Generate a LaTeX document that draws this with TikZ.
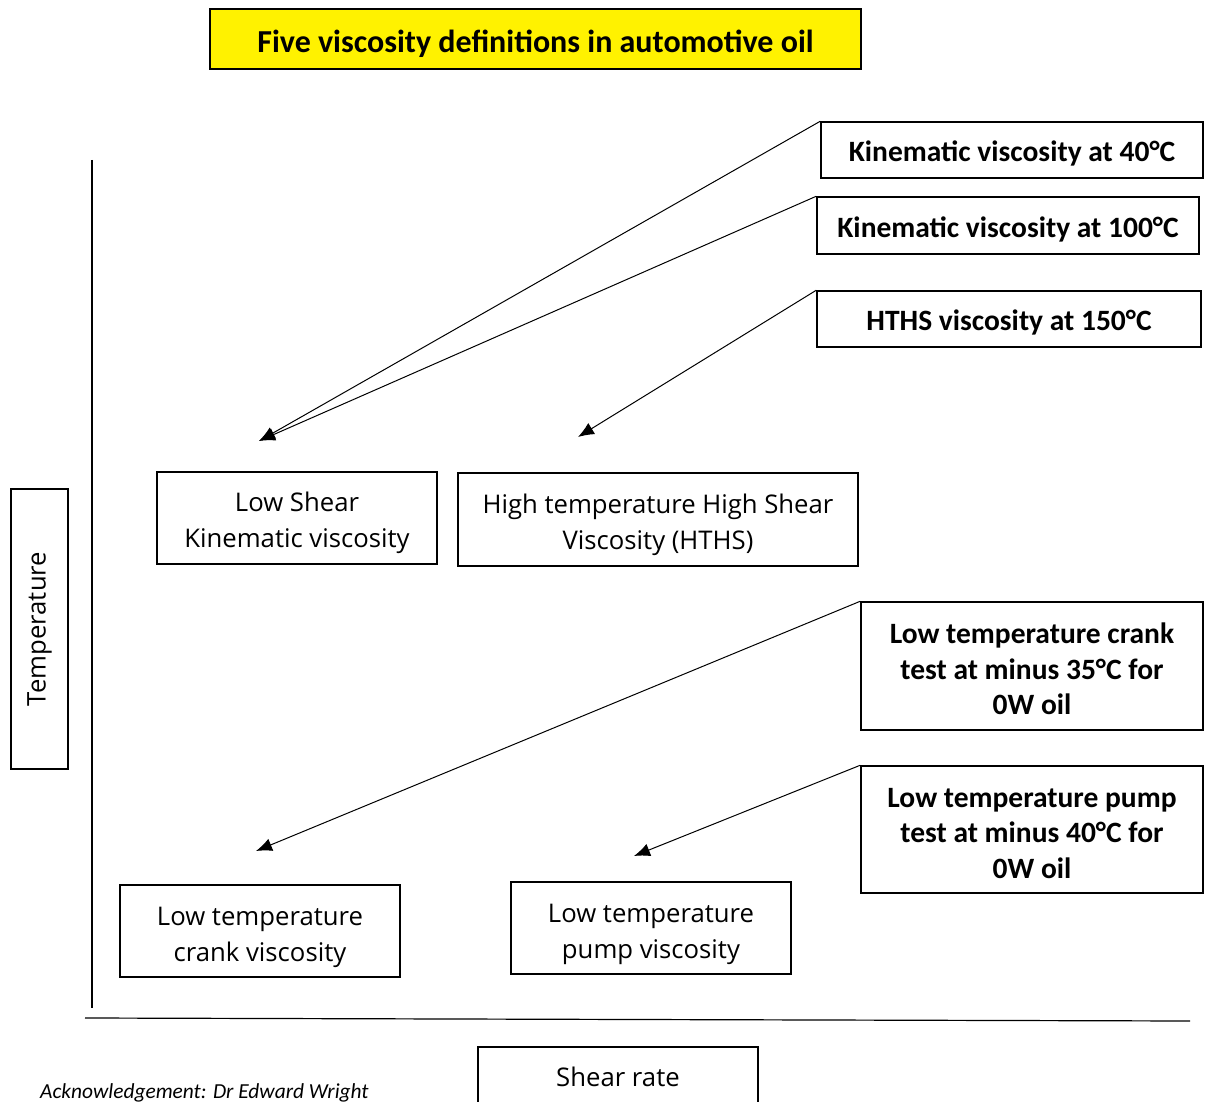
\documentclass[tikz,border=0pt]{standalone}
\usepackage{fontspec}
\setmainfont{Open Sans}
\newfontfamily\calfont{Carlito}
\usetikzlibrary{arrows.meta}
\begin{document}
\begin{tikzpicture}[x=1pt,y=-1pt,
  box/.style={draw, line width=1.5pt, inner sep=0pt, align=center, font=\fontsize{25.7}{36}\selectfont},
  bbox/.style={box, font=\calfont\bfseries\fontsize{29.5}{35.5}\selectfont},
  lower/.style={execute at begin node={\rule{0pt}{#1}}},
  arr/.style={-{Latex[length=16pt,width=13pt]}, line width=1pt},
  axis/.style={line width=1.2pt}]
\useasboundingbox (0,0) rectangle (1208,1102);
\node[bbox, fill=yellow, minimum width=651pt, minimum height=60pt, font=\calfont\bfseries\fontsize{32}{36}\selectfont, lower=32pt] (title) at (535.5,39) {Five viscosity definitions in automotive oil};
\node[bbox, lower=28pt, minimum width=382pt, minimum height=56pt] (k40) at (1012,150) {Kinematic viscosity at 40°C};
\node[bbox, lower=28pt, minimum width=382pt, minimum height=57pt] (k100) at (1008,225.5) {Kinematic viscosity at 100°C};
\node[bbox, lower=28pt, minimum width=384pt, minimum height=56pt] (h150) at (1009,319) {HTHS viscosity at 150°C};
\node[box, lower=65.5pt, minimum width=280pt, minimum height=92pt] (ls) at (297,518) {Low Shear\\Kinematic viscosity};
\node[box, lower=65.5pt, minimum width=400pt, minimum height=93pt] (hths) at (658,519.5) {High temperature High Shear\\Viscosity (HTHS)};
\node[bbox, lower=98pt, minimum width=342pt, minimum height=128pt] (ct) at (1032,666) {Low temperature crank\\test at minus 35°C for\\0W oil};
\node[bbox, lower=98pt, minimum width=342pt, minimum height=127pt] (pt) at (1032,829.5) {Low temperature pump\\test at minus 40°C for\\0W oil};
\node[box, lower=67.5pt, minimum width=280pt, minimum height=92pt] (cv) at (260,931) {Low temperature\\crank viscosity};
\node[box, lower=67.5pt, minimum width=280pt, minimum height=92pt] (pv) at (651,928) {Low temperature\\pump viscosity};
\node[box, minimum width=280pt, minimum height=57pt, rotate=90] (temp) at (39.5,629) {Temperature};
\node[box, minimum width=280pt, minimum height=60pt] (shear) at (618,1077) {Shear rate};
\node[anchor=west, inner sep=0pt, font=\calfont\itshape\fontsize{21.4}{24}\selectfont] (ack) at (40,1093) {Acknowledgement: Dr Edward Wright};
\coordinate (yt) at (92,160);
\coordinate (yb) at (92,1008);
\coordinate (xl) at (85,1018);
\coordinate (xr) at (1190,1021);
\draw[axis] (yt) -- (yb);
\draw[axis] (xl) -- (xr);
\coordinate (a1) at (259,441);
\coordinate (a2) at (578,437);
\coordinate (a3) at (256,851);
\coordinate (a4) at (634,856);
\draw[arr] (k40.north west) -- (a1);
\draw[arr] (k100.north west) -- (a1);
\draw[arr] (h150.north west) -- (a2);
\draw[arr] (ct.north west) -- (a3);
\draw[arr] (pt.north west) -- (a4);
\end{tikzpicture}
\end{document}
